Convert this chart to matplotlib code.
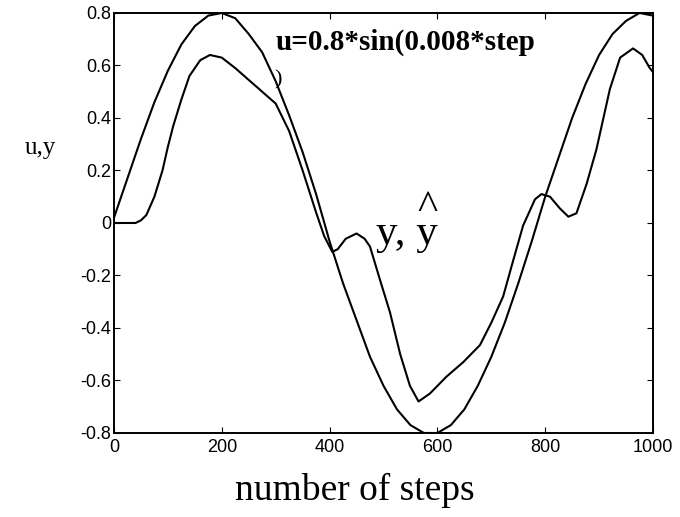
import matplotlib
matplotlib.use('Agg')
import matplotlib.pyplot as plt

# input u = 0.8*sin(0.008*step)
u_steps = [0, 25, 50, 75, 100, 125, 150, 175, 200, 225, 250, 275, 300, 325,
           350, 375, 400, 425, 450, 475, 500, 525, 550, 575, 600, 625, 650,
           675, 700, 725, 750, 775, 800, 825, 850, 875, 900, 925, 950, 975, 1000]
u_vals = [0.02, 0.17, 0.32, 0.46, 0.58, 0.68, 0.75, 0.79, 0.80, 0.78, 0.72,
          0.65, 0.54, 0.41, 0.27, 0.11, -0.07, -0.23, -0.37, -0.51, -0.62,
          -0.71, -0.77, -0.80, -0.80, -0.77, -0.71, -0.62, -0.51, -0.38,
          -0.23, -0.07, 0.10, 0.25, 0.40, 0.53, 0.64, 0.72, 0.77, 0.80, 0.79]

# plant output y / model output y^
y_steps = [0, 25, 40, 50, 60, 75, 90, 100, 110, 125, 140, 160, 178, 200, 225,
           250, 275, 300, 325, 350, 375, 390, 405, 415, 430, 450, 465, 475,
           494, 512, 531, 549, 565, 586, 617, 648, 679, 700, 722, 741, 759,
           781, 793, 809, 827, 843, 858, 877, 895, 920, 939, 963, 980, 994, 1000]
y_vals = [0.00, 0.00, 0.00, 0.01, 0.03, 0.10, 0.20, 0.29, 0.37, 0.47, 0.56,
          0.62, 0.64, 0.63, 0.59, 0.545, 0.50, 0.455, 0.35, 0.20, 0.04, -0.05,
          -0.11, -0.10, -0.06, -0.04, -0.06, -0.09, -0.22, -0.34, -0.50, -0.62,
          -0.68, -0.65, -0.585, -0.53, -0.465, -0.38, -0.28, -0.14, -0.01,
          0.09, 0.11, 0.10, 0.056, 0.024, 0.037, 0.15, 0.28, 0.51, 0.63, 0.665,
          0.64, 0.59, 0.575]

x_ticks = [0, 200, 400, 600, 800, 1000]
y_ticks = [-0.8, -0.6, -0.4, -0.2, 0, 0.2, 0.4, 0.6, 0.8]
y_ticklabels = ['-0.8', '-0.6', '-0.4', '-0.2', '0', '0.2', '0.4', '0.6', '0.8']

fig = plt.figure(figsize=(6.8, 5.17), dpi=100)
ax = fig.add_axes([0.1676, 0.1625, 0.7927, 0.8124])

ax.plot(u_steps, u_vals, color='black', linewidth=1.5)
ax.plot(y_steps, y_vals, color='black', linewidth=1.5)

ax.set_xlim(0, 1000)
ax.set_ylim(-0.8, 0.8)
ax.set_xticks(x_ticks)
ax.set_yticks(y_ticks)
ax.set_yticklabels(y_ticklabels)
ax.tick_params(direction='in', top=True, right=True, length=4, width=0.8,
               labelsize=13, colors='black')
ax.tick_params(axis='x', pad=4)
ax.tick_params(axis='y', pad=2)
for lbl in ax.get_xticklabels() + ax.get_yticklabels():
    lbl.set_family('Liberation Sans')
for sp in ax.spines.values():
    sp.set_linewidth(1.4)

# labels
ax.set_xlabel('number of steps', family='Liberation Serif', fontsize=27)
ax.xaxis.set_label_coords(0.447, -0.136)
ax.xaxis.label.set_va('center')
ax.set_ylabel('u,y', family='Liberation Serif', fontsize=18, rotation=0)
ax.yaxis.set_label_coords(-0.137, 0.679)
ax.yaxis.label.set_va('center')
ax.yaxis.label.set_ha('center')

# annotations
ax.text(299, 0.659, 'u=0.8*sin(0.008*step', family='Liberation Serif',
        fontweight='bold', fontsize=21, ha='left', va='baseline')
ax.text(304, 0.545, ')', family='Liberation Serif', fontsize=16,
        ha='center', va='center')
# hat drawn as a second line, right-aligned over the second y
ax.text(486, -0.08, '^\ny, y', family='Liberation Serif', fontsize=31,
        ha='left', va='baseline', multialignment='right', linespacing=0.55)

fig.savefig('out.png', dpi=100)
